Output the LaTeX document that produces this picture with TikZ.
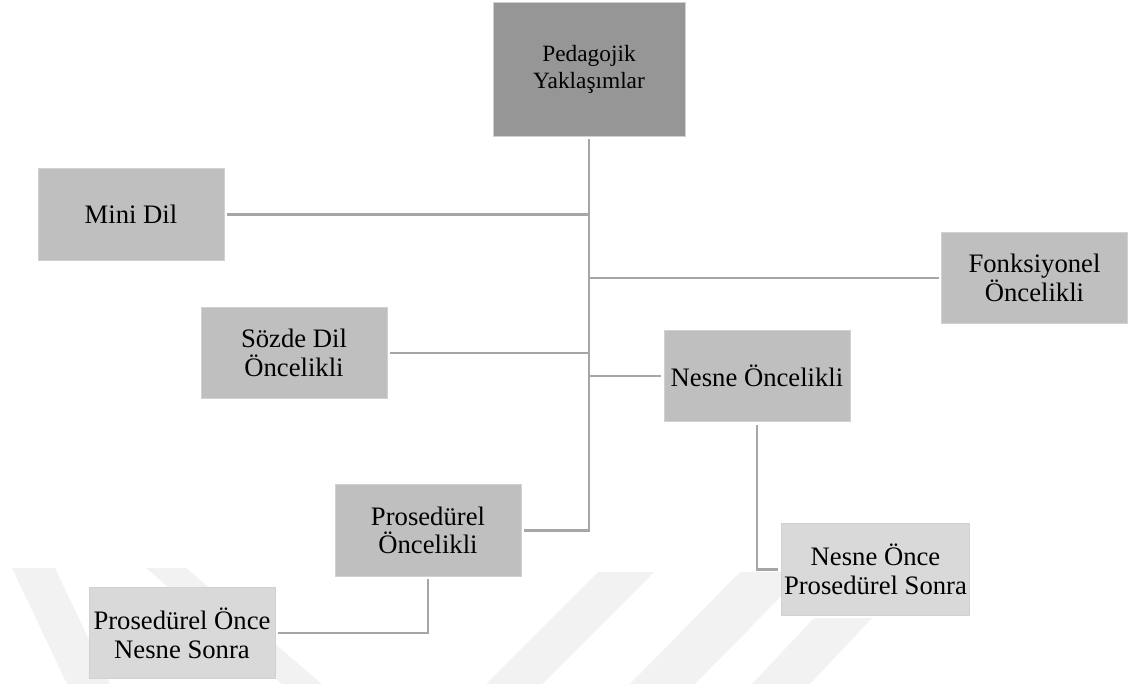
\documentclass[tikz,border=0pt]{standalone}
\usepackage{fontspec}
\setmainfont{Liberation Serif}
\usepackage{xcolor}
\usepackage{tikz}
\usetikzlibrary{positioning,calc}

\begin{document}
\begin{tikzpicture}[
    x=0.75pt, y=-0.75pt,
    box/.style={rectangle, draw=black!18, line width=0.6pt, fill=black!25, minimum width=139.5pt, minimum height=68.5pt, align=center, inner sep=2pt, outer sep=2.2pt, font=\fontsize{20}{21.5}\selectfont},
    topbox/.style={box, fill=black!41, minimum width=144pt, minimum height=100pt, font=\fontsize{17.5}{20.5}\selectfont},
    lbox/.style={box, fill=black!15},
    conn/.style={draw=black!35, line width=1.8pt}
]

% page and watermark
\useasboundingbox (0,0) rectangle (1129,684);
\fill[black!5] (12,568) -- (55,568) -- (110,684) -- (67,684) -- cycle;
\fill[black!5] (146,568) -- (186,568) -- (322,684) -- (282,684) -- cycle;
\fill[black!5] (598,572) -- (654,572) -- (542,684) -- (486,684) -- cycle;
\fill[black!5] (740,572) -- (805,572) -- (695,684) -- (630,684) -- cycle;
\fill[black!5] (814,618) -- (872,618) -- (810,684) -- (752,684) -- cycle;

% 1. Root
\node[topbox] (ped) at (589,69.5) {Pedagojik\\Yakla\c{s}\i mlar};

% 2. Approaches
\node[box] (mini) at (131,214.5) {Mini Dil};
\node[box] (fonk) at (1034.5,278) {Fonksiyonel\\\"Oncelikli};
\node[box] (sozde) at (294,353) {S\"ozde Dil\\\"Oncelikli};
\node[box] (nesne) at (757,376) {Nesne \"Oncelikli};
\node[box] (pros) at (428,530.5) {Prosed\"urel\\\"Oncelikli};

% 3. Mixed approaches
\node[lbox] (pons) at (182,633) {Prosed\"urel \"Once\\Nesne Sonra};
\node[lbox] (nops) at (875.5,569.5) {Nesne \"Once\\Prosed\"urel Sonra};

% Connectors
\draw[conn] (ped.south) |- (pros.east);
\draw[conn] (mini.east) -- (mini.east -| ped.south);
\draw[conn] (fonk.west) -- (fonk.west -| ped.south);
\draw[conn] (sozde.east) -- (sozde.east -| ped.south);
\draw[conn] (nesne.west) -- (nesne.west -| ped.south);
\draw[conn] (nesne.south) |- (nops.west);
\draw[conn] (pros.south) |- (pons.east);

\end{tikzpicture}
\end{document}
